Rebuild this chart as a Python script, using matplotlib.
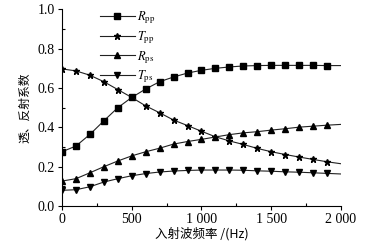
import matplotlib
matplotlib.use("Agg")
import matplotlib.pyplot as plt
from matplotlib.ticker import MultipleLocator, FuncFormatter

freq = [0, 100, 200, 300, 400, 500, 600, 700, 800, 900, 1000,
        1100, 1200, 1300, 1400, 1500, 1600, 1700, 1800, 1900, 2000]
R_pp = [0.276, 0.305, 0.364, 0.433, 0.500, 0.552, 0.595, 0.632, 0.656, 0.676, 0.690,
        0.700, 0.707, 0.712, 0.714, 0.715, 0.715, 0.715, 0.715, 0.714, 0.714]
T_pp = [0.697, 0.687, 0.665, 0.632, 0.592, 0.552, 0.509, 0.474, 0.437, 0.409, 0.380,
        0.352, 0.331, 0.313, 0.293, 0.276, 0.262, 0.249, 0.237, 0.225, 0.215]
R_ps = [0.127, 0.139, 0.169, 0.200, 0.229, 0.255, 0.276, 0.294, 0.315, 0.328, 0.339,
        0.351, 0.363, 0.372, 0.378, 0.386, 0.393, 0.401, 0.406, 0.411, 0.415]
T_ps = [0.080, 0.083, 0.098, 0.122, 0.139, 0.154, 0.165, 0.173, 0.178, 0.181, 0.183,
        0.183, 0.183, 0.182, 0.179, 0.177, 0.174, 0.172, 0.169, 0.166, 0.163]
labels = [r'$R_{\mathrm{pp}}$', r'$T_{\mathrm{pp}}$', r'$R_{\mathrm{ps}}$', r'$T_{\mathrm{ps}}$']
markers = ['s', '*', '^', 'v']
msizes = [4.0, 5.0, 4.5, 4.5]

plt.rcParams['font.family'] = ['Liberation Serif', 'Noto Sans CJK SC', 'DejaVu Sans']
plt.rcParams['mathtext.fontset'] = 'stix'

fig = plt.figure(figsize=(3.81, 2.45), dpi=100)
ax = fig.add_axes([0.1627, 0.159, 0.895 - 0.1627, 0.962 - 0.159])

for ys, lab, mk, ms in zip([R_pp, T_pp, R_ps, T_ps], labels, markers, msizes):
    ax.plot(freq, ys, color='#222222', lw=0.8, marker=mk, ms=ms,
            markevery=slice(0, 20), markerfacecolor='black',
            markeredgecolor='black', label=lab)

ax.set_xlim(0, 2000)
ax.set_ylim(0, 1.0)
ax.xaxis.set_major_locator(MultipleLocator(500))
ax.xaxis.set_minor_locator(MultipleLocator(250))
ax.yaxis.set_major_locator(MultipleLocator(0.2))
ax.yaxis.set_minor_locator(MultipleLocator(0.1))
ax.xaxis.set_major_formatter(FuncFormatter(lambda v, p: f"{int(v):,}".replace(",", " ")))
ax.yaxis.set_major_formatter(FuncFormatter(lambda v, p: f"{v:.1f}"))
ax.tick_params(which='major', direction='out', length=3, width=0.8, labelsize=10, pad=2)
ax.tick_params(which='minor', direction='in', length=2.5, width=0.8)
ax.spines['top'].set_visible(False)
ax.spines['right'].set_visible(False)
for s in ('left', 'bottom'):
    ax.spines[s].set_linewidth(0.8)

ax.set_xlabel('入射波频率 /(Hz)', fontsize=9, labelpad=1,
              family=['Noto Sans CJK SC', 'Liberation Serif'])
ax.set_ylabel('透、反射系数', fontsize=8.5, labelpad=5,
              family=['Noto Sans CJK SC', 'Liberation Serif'])

ax.legend(loc='upper left', bbox_to_anchor=(0.135, 1.0), frameon=False,
          fontsize=9, handlelength=2.8, handletextpad=0.15, labelspacing=0.25,
          borderpad=0, borderaxespad=0)

fig.savefig('out.png', dpi=100)
